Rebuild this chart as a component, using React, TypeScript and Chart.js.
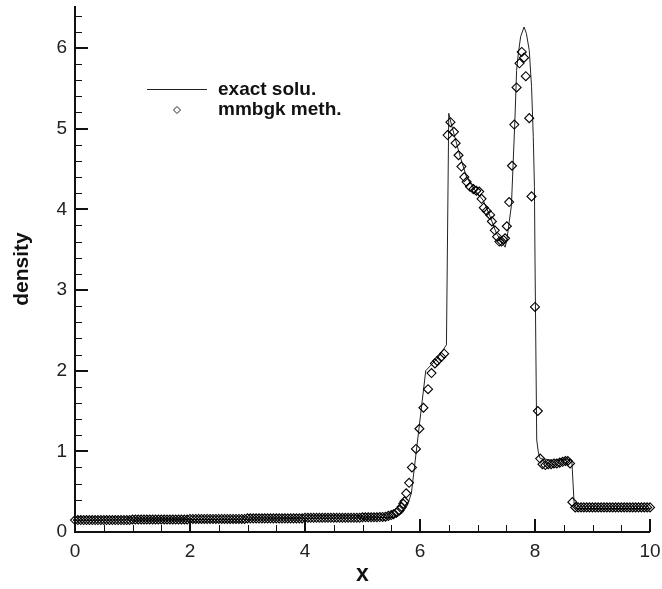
import { useEffect, useRef } from "react";
import { Chart, registerables } from "chart.js";

Chart.register(...registerables);

// ---------- data ----------
const exactX = [0, 1, 2, 3, 4, 5, 5.5, 5.6, 5.7, 5.78, 5.85, 6.1, 6.3, 6.46, 6.5, 6.55, 6.7, 6.81, 6.93, 7.1, 7.22, 7.33, 7.48, 7.51, 7.59, 7.65, 7.68, 7.71, 7.75, 7.81, 7.85, 7.9, 7.94, 7.97, 7.99, 8.0, 8.03, 8.06, 8.09, 8.3, 8.5, 8.64, 8.68, 8.71, 10];
const exactY = [0.14, 0.15, 0.155, 0.16, 0.17, 0.175, 0.18, 0.19, 0.24, 0.33, 0.48, 2.0, 2.15, 2.32, 5.19, 5.04, 4.65, 4.4, 4.26, 4.11, 3.91, 3.7, 3.53, 3.62, 4.05, 5.1, 5.72, 5.93, 6.14, 6.26, 6.18, 5.97, 5.52, 4.9, 4.28, 3.37, 1.14, 0.98, 0.91, 0.89, 0.9, 0.89, 0.36, 0.29, 0.29];

const methX = [
  0, 0.05, 0.1, 0.15, 0.2, 0.25, 0.3, 0.35, 0.4, 0.45, 0.5, 0.55, 0.6, 0.65, 0.7, 0.75, 0.8, 0.85, 0.9, 0.95,
  1, 1.05, 1.1, 1.15, 1.2, 1.25, 1.3, 1.35, 1.4, 1.45, 1.5, 1.55, 1.6, 1.65, 1.7, 1.75, 1.8, 1.85, 1.9, 1.95,
  2, 2.05, 2.1, 2.15, 2.2, 2.25, 2.3, 2.35, 2.4, 2.45, 2.5, 2.55, 2.6, 2.65, 2.7, 2.75, 2.8, 2.85, 2.9, 2.95,
  3, 3.05, 3.1, 3.15, 3.2, 3.25, 3.3, 3.35, 3.4, 3.45, 3.5, 3.55, 3.6, 3.65, 3.7, 3.75, 3.8, 3.85, 3.9, 3.95,
  4, 4.05, 4.1, 4.15, 4.2, 4.25, 4.3, 4.35, 4.4, 4.45, 4.5, 4.55, 4.6, 4.65, 4.7, 4.75, 4.8, 4.85, 4.9, 4.95,
  5, 5.05, 5.1, 5.15, 5.2, 5.25, 5.3, 5.35, 5.4, 5.45, 5.5,
  5.54, 5.59, 5.64, 5.68, 5.71, 5.73, 5.76, 5.81, 5.86, 5.93, 5.99, 6.06, 6.14, 6.2, 6.26, 6.3, 6.37, 6.42,
  6.48, 6.53, 6.59, 6.62, 6.67, 6.72, 6.77, 6.81, 6.87, 6.93, 6.98, 7.03, 7.07, 7.11, 7.16, 7.22, 7.25, 7.3,
  7.34, 7.38, 7.42, 7.45, 7.48, 7.51, 7.55, 7.6, 7.64, 7.68, 7.73, 7.77, 7.81, 7.84, 7.9, 7.94, 8.0, 8.05, 8.09,
  8.13, 8.18, 8.23, 8.28, 8.33, 8.38, 8.43, 8.48, 8.53, 8.57, 8.61, 8.65,
  8.7, 8.75, 8.8, 8.85, 8.9, 8.95, 9, 9.05, 9.1, 9.15, 9.2, 9.25, 9.3, 9.35, 9.4, 9.45, 9.5, 9.55, 9.6, 9.65,
  9.7, 9.75, 9.8, 9.85, 9.9, 9.95, 10,
];
const methY = [
  0.148, 0.148, 0.148, 0.148, 0.148, 0.148, 0.148, 0.148, 0.148, 0.148, 0.148, 0.148, 0.148, 0.148, 0.148, 0.148, 0.148, 0.148, 0.148, 0.148,
  0.155, 0.155, 0.155, 0.155, 0.155, 0.155, 0.155, 0.155, 0.155, 0.155, 0.155, 0.155, 0.155, 0.155, 0.155, 0.155, 0.155, 0.155, 0.155, 0.155,
  0.162, 0.162, 0.162, 0.162, 0.162, 0.162, 0.162, 0.162, 0.162, 0.162, 0.162, 0.162, 0.162, 0.162, 0.162, 0.162, 0.162, 0.162, 0.162, 0.162,
  0.169, 0.169, 0.169, 0.169, 0.169, 0.169, 0.169, 0.169, 0.169, 0.169, 0.169, 0.169, 0.169, 0.169, 0.169, 0.169, 0.169, 0.169, 0.169, 0.169,
  0.176, 0.176, 0.176, 0.176, 0.176, 0.176, 0.176, 0.176, 0.176, 0.176, 0.176, 0.176, 0.176, 0.176, 0.176, 0.176, 0.176, 0.176, 0.176, 0.176,
  0.183, 0.183, 0.183, 0.183, 0.183, 0.183, 0.185, 0.187, 0.19, 0.2, 0.21,
  0.22, 0.24, 0.27, 0.31, 0.35, 0.38, 0.48, 0.61, 0.8, 1.03, 1.28, 1.54, 1.77, 1.97, 2.09, 2.12, 2.17, 2.21,
  4.92, 5.08, 4.96, 4.82, 4.67, 4.53, 4.4, 4.34, 4.28, 4.25, 4.23, 4.22, 4.13, 4.02, 3.98, 3.93, 3.85, 3.74,
  3.66, 3.6, 3.6, 3.62, 3.64, 3.79, 4.09, 4.54, 5.05, 5.51, 5.81, 5.95, 5.88, 5.65, 5.13, 4.16, 2.79, 1.5, 0.91,
  0.84, 0.83, 0.84, 0.84, 0.85, 0.85, 0.86, 0.87, 0.88, 0.88, 0.85, 0.37,
  0.305, 0.305, 0.305, 0.305, 0.305, 0.305, 0.305, 0.305, 0.305, 0.305, 0.305, 0.305, 0.305, 0.305, 0.305, 0.305, 0.305, 0.305, 0.305, 0.305,
  0.305, 0.305, 0.305, 0.305, 0.305, 0.305, 0.305,
];

const xTicks = [0, 2, 4, 6, 8, 10];
const yTicks = [0, 1, 2, 3, 4, 5, 6];
const xMinorStep = 0.5;
const yMinorStep = 0.2;
const xMin = 0;
const xMax = 10;
const yMin = 0;
const yMax = 6.52;

const seriesLabels = ["exact solu.", "mmbgk meth."];
const xTitle = "x";
const yTitle = "density";

const FONT = "'Liberation Sans', Arial, Helvetica, sans-serif";

const decorPlugin = {
  id: "decor",
  afterDraw(chart: any) {
    const { ctx, chartArea, scales } = chart;
    const { left, right, top, bottom } = chartArea;
    const xs = scales.x;
    const ys = scales.y;
    ctx.save();
    ctx.strokeStyle = "#111";
    // minor ticks
    ctx.lineWidth = 1;
    ctx.beginPath();
    for (let v = xMin; v <= xMax + 1e-9; v += xMinorStep) {
      const px = Math.round(xs.getPixelForValue(v)) + 0.5;
      ctx.moveTo(px, bottom);
      ctx.lineTo(px, bottom - 7);
    }
    for (let v = yMin; v <= yMax + 1e-9; v += yMinorStep) {
      const py = Math.round(ys.getPixelForValue(v)) + 0.5;
      ctx.moveTo(left, py);
      ctx.lineTo(left + 7, py);
    }
    ctx.stroke();
    // major ticks + axis lines
    ctx.lineWidth = 2;
    ctx.beginPath();
    for (const v of xTicks) {
      const px = Math.round(xs.getPixelForValue(v));
      ctx.moveTo(px, bottom);
      ctx.lineTo(px, bottom - 13);
    }
    for (const v of yTicks) {
      const py = Math.round(ys.getPixelForValue(v));
      ctx.moveTo(left, py);
      ctx.lineTo(left + 13, py);
    }
    ctx.moveTo(left, top);
    ctx.lineTo(left, bottom);
    ctx.lineTo(right, bottom);
    ctx.stroke();

    // axis titles
    ctx.fillStyle = "#111";
    ctx.textAlign = "center";
    ctx.textBaseline = "middle";
    ctx.font = `bold 23px ${FONT}`;
    ctx.fillText(xTitle, (left + right) / 2, 575);
    ctx.save();
    ctx.translate(22, (top + bottom) / 2);
    ctx.rotate(-Math.PI / 2);
    ctx.font = `bold 21px ${FONT}`;
    ctx.fillText(yTitle, 0, 0);
    ctx.restore();

    // legend
    ctx.lineWidth = 1;
    ctx.strokeStyle = "#222";
    ctx.beginPath();
    ctx.moveTo(147, 89.5);
    ctx.lineTo(207, 89.5);
    ctx.stroke();
    ctx.beginPath();
    const cx = 177, cy = 110, r = 3.5;
    ctx.moveTo(cx, cy - r);
    ctx.lineTo(cx + r, cy);
    ctx.lineTo(cx, cy + r);
    ctx.lineTo(cx - r, cy);
    ctx.closePath();
    ctx.stroke();
    ctx.textAlign = "left";
    ctx.textBaseline = "alphabetic";
    ctx.font = `bold 19px ${FONT}`;
    ctx.fillText(seriesLabels[0], 218, 95);
    ctx.fillText(seriesLabels[1], 218, 114.5);
    ctx.restore();
  },
};

const zeroPad = (s: any) => {
  s.paddingTop = 0;
  s.paddingBottom = 0;
  s.paddingLeft = 0;
  s.paddingRight = 0;
};

export default function App() {
  const canvasRef = useRef<HTMLCanvasElement | null>(null);

  useEffect(() => {
    const canvas = canvasRef.current;
    if (!canvas) return;
    const chart = new Chart(canvas, {
      type: "scatter",
      data: {
        datasets: [
          {
            label: seriesLabels[1],
            data: methX.map((x, i) => ({ x, y: methY[i] })),
            showLine: false,
            pointStyle: "rectRot",
            pointRadius: 4.5,
            borderWidth: 1.1,
            borderColor: "#000",
            backgroundColor: "rgba(0,0,0,0)",
            clip: false,
          } as any,
          {
            type: "line",
            label: seriesLabels[0],
            data: exactX.map((x, i) => ({ x, y: exactY[i] })),
            borderColor: "#222",
            borderWidth: 1,
            pointRadius: 0,
            fill: false,
            tension: 0,
          } as any,
        ],
      },
      options: {
        responsive: false,
        animation: false,
        events: [],
        layout: { padding: { left: 0, right: 12, top: 6, bottom: 0 } },
        plugins: { legend: { display: false }, tooltip: { enabled: false } },
        scales: {
          x: {
            type: "linear",
            min: xMin,
            max: xMax,
            grid: { display: false, drawTicks: false },
            border: { display: false },
            ticks: { font: { family: FONT, size: 19 }, color: "#222", padding: 8, maxRotation: 0 },
            afterBuildTicks: (s: any) => {
              s.ticks = xTicks.map((v) => ({ value: v }));
            },
            afterFit: (s: any) => {
              s.height = 57;
              zeroPad(s);
            },
          },
          y: {
            type: "linear",
            min: yMin,
            max: yMax,
            grid: { display: false, drawTicks: false },
            border: { display: false },
            ticks: { font: { family: FONT, size: 19 }, color: "#222", padding: 8 },
            afterBuildTicks: (s: any) => {
              s.ticks = yTicks.map((v) => ({ value: v }));
            },
            afterFit: (s: any) => {
              s.width = 75;
              zeroPad(s);
            },
          },
        },
      } as any,
      plugins: [decorPlugin],
    });
    return () => chart.destroy();
  }, []);

  return (
    <div style={{ position: "fixed", left: 0, top: 0, width: 662, height: 589, background: "#fff" }}>
      <canvas ref={canvasRef} width={662} height={589} style={{ display: "block" }} />
    </div>
  );
}
